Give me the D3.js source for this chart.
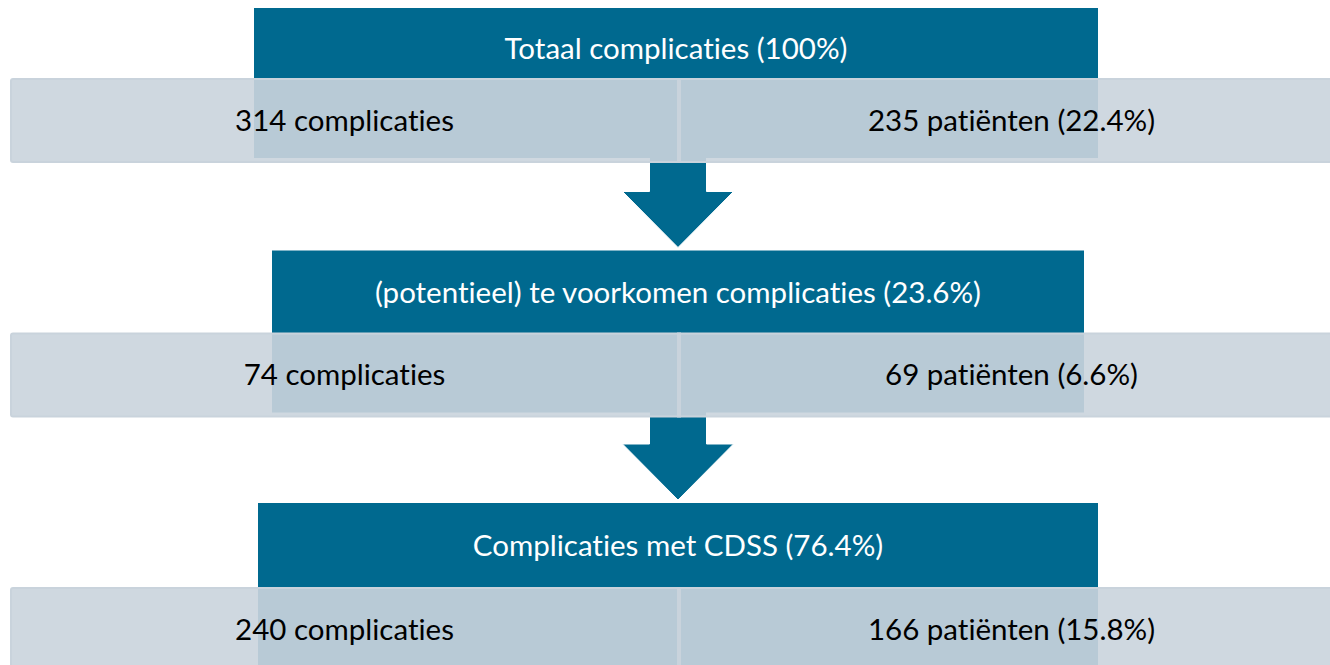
<!DOCTYPE html>
<html>
<head>
<meta charset="utf-8">
<script src="https://cdn.jsdelivr.net/npm/d3@7"></script>
<style>
  html, body { margin: 0; padding: 0; background: #fff; overflow: hidden; }
  svg { display: block; font-family: Lato, "Open Sans", sans-serif; font-variant-ligatures: none; }
</style>
</head>
<body>
<div id="chart"></div>
<script>
// Flow of complications: each step has a title and two counts.
var stepTitles = [
  "Totaal complicaties (100%)",
  "(potentieel) te voorkomen complicaties (23.6%)",
  "Complicaties met CDSS (76.4%)"
];
var complicationCounts = [314, 74, 240];
var patientCounts = [235, 69, 166];
var patientPercents = ["22.4%", "6.6%", "15.8%"];

// Layout.
var width = 1330,
    height = 665,
    bandLeft = 10,
    bandRight = 1344,
    bandHeight = 85,
    divider = 679,
    headerHeights = [70, 82, 84],
    headerLeft = [254, 272, 258],
    headerRight = [1098, 1084, 1098],
    shaftWidth = 57,
    headWidth = 111,
    headHeight = 56,
    fontSize = "29.5px",
    dark = "#00698f",
    bandFill = "rgb(202,212,221)",
    bandEdge = "#c9d3dc";

var svg = d3.select("#chart").append("svg")
    .attr("width", width)
    .attr("height", height);

// Band top for each step.
var y = d3.scaleLinear()
    .domain([0, stepTitles.length - 1])
    .range([78, 587]);

var steps = stepTitles.map(function (t, i) {
  return {
    title: t,
    left: complicationCounts[i] + " complicaties",
    right: patientCounts[i] + " patiënten (" + patientPercents[i] + ")",
    i: i
  };
});

// Arrows between steps (drawn first so bands sit on top).
var arrowG = svg.append("g");
steps.slice(1).forEach(function (d) {
  var top = y(d.i - 1) + bandHeight - 6,
      tip = y(d.i) - headerHeights[d.i] - 3,
      cx = divider - 1,
      hs = tip - headHeight;
  var pts = [
    [cx - shaftWidth / 2, top], [cx + shaftWidth / 2, top],
    [cx + shaftWidth / 2, hs], [cx + headWidth / 2, hs],
    [cx, tip], [cx - headWidth / 2, hs],
    [cx - shaftWidth / 2, hs]
  ];
  arrowG.append("path")
      .attr("d", "M" + pts.join("L") + "Z")
      .attr("fill", dark)
      .attr("stroke", "#fff")
      .attr("stroke-width", 1);
});

var g = svg.selectAll("g.step")
    .data(steps)
  .enter().append("g")
    .attr("class", "step");

// Dark header box.
g.append("rect")
    .attr("x", function (d) { return headerLeft[d.i]; })
    .attr("y", function (d) { return y(d.i) - headerHeights[d.i]; })
    .attr("width", function (d) { return headerRight[d.i] - headerLeft[d.i]; })
    .attr("height", function (d) { return headerHeights[d.i] + bandHeight - 5; })
    .attr("fill", dark);

g.append("text")
    .attr("x", function (d) { return (headerLeft[d.i] + headerRight[d.i]) / 2; })
    .attr("y", function (d) { return y(d.i) - 31 - (headerHeights[d.i] - 70) * 0.8; })
    .attr("text-anchor", "middle")
    .attr("dominant-baseline", "central")
    .attr("fill", "#fff")
    .style("font-size", fontSize)
    .text(function (d) { return d.title; });

// Light translucent band with two cells.
g.append("rect")
    .attr("x", bandLeft + 1)
    .attr("y", function (d) { return y(d.i) + 1; })
    .attr("width", bandRight - bandLeft - 2)
    .attr("height", bandHeight - 2)
    .attr("rx", 2)
    .attr("fill", bandFill)
    .attr("fill-opacity", 0.91)
    .attr("stroke", bandEdge)
    .attr("stroke-width", 2);

g.append("line")
    .attr("x1", divider)
    .attr("x2", divider)
    .attr("y1", function (d) { return y(d.i); })
    .attr("y2", function (d) { return y(d.i) + bandHeight; })
    .attr("stroke", bandEdge)
    .attr("stroke-width", 4);

g.append("text")
    .attr("x", (bandLeft + divider) / 2)
    .attr("y", function (d) { return y(d.i) + bandHeight / 2 - 1.5; })
    .attr("text-anchor", "middle")
    .attr("dominant-baseline", "central")
    .attr("fill", "#000")
    .style("font-size", fontSize)
    .text(function (d) { return d.left; });

g.append("text")
    .attr("x", (divider + bandRight) / 2)
    .attr("y", function (d) { return y(d.i) + bandHeight / 2 - 1.5; })
    .attr("text-anchor", "middle")
    .attr("dominant-baseline", "central")
    .attr("fill", "#000")
    .style("font-size", fontSize)
    .text(function (d) { return d.right; });
</script>
</body>
</html>
